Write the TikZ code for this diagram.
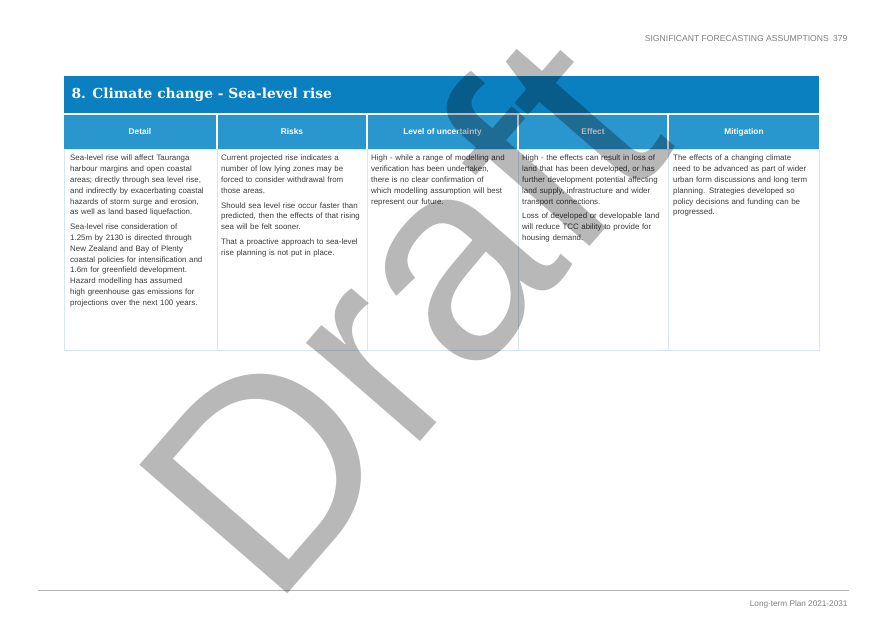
\documentclass[tikz,border=0pt]{standalone}
\usepackage{fontspec}
\setmainfont{Liberation Sans}
\newfontfamily\slab{DejaVu Serif}
\hyphenpenalty=10000
\exhyphenpenalty=10000
\begin{document}
\begin{tikzpicture}[x=1pt,y=-1pt,
  body/.style={anchor=north west,text width=139pt,align=left,text=txt,font=\fontsize{7.9}{10.8}\selectfont,inner sep=0pt}]
\definecolor{tcol}{HTML}{0A80C0}
\definecolor{hcol}{HTML}{2A96CE}
\definecolor{txt}{HTML}{3C3C3C}
\definecolor{lin}{HTML}{D6E6F2}
\useasboundingbox (0,0) rectangle (886,626);
\fill[white] (0,0) rectangle (886,626);
\node[anchor=east,text=gray,font=\fontsize{8.6}{10}\selectfont] (pg) at (851,39) {SIGNIFICANT FORECASTING ASSUMPTIONS\enspace 379};
% title
\fill[tcol] (64,76) rectangle (819,113);
\node[anchor=west,text=white,font=\slab\bfseries\fontsize{13.8}{16}\selectfont] (title) at (68,95) {8. Climate change - Sea-level rise};
% headers
\foreach \a/\b/\t [count=\i] in {64/216/Detail,218/366/Risks,368/517/Level of uncertainty,519/667/Effect,669/819/Mitigation}{
  \fill[hcol] (\a,115) rectangle (\b,149);
  \node[text=white,font=\bfseries\fontsize{8.3}{10}\selectfont] (h\i) at ({(\a+\b)/2},132) {\t};
}
\draw[lin] (64,149) rectangle (819,350);
\foreach \x in {217,367,518,668} \draw[lin] (\x,149) -- (\x,350);
\node[body] (d1) at (70,155) {Sea-level rise will affect Tauranga harbour margins and open coastal areas; directly through sea level rise, and indirectly by exacerbating coastal hazards of storm surge and erosion, as well as land based liquefaction.\par\vspace{4pt}Sea-level rise consideration of 1.25m by 2130 is directed through New Zealand and Bay of Plenty coastal policies for intensification and 1.6m for greenfield development. Hazard modelling has assumed high greenhouse gas emissions for projections over the next 100 years.};
\node[body] (d2) at (221,155) {Current projected rise indicates a number of low lying zones may be forced to consider withdrawal from those areas.\par\vspace{4pt}Should sea level rise occur faster than predicted, then the effects of that rising sea will be felt sooner.\par\vspace{4pt}That a proactive approach to sea-level rise planning is not put in place.};
\node[body,text width=143pt] (d3) at (371,155) {High - while a range of modelling and verification has been undertaken, there is no clear confirmation of which modelling assumption will best represent our future.};
\node[body,text width=146pt] (d4) at (522,155) {High - the effects can result in loss of land that has been developed, or has further development potential affecting land supply, infrastructure and wider transport connections.\par\vspace{4pt}Loss of developed or developable land will reduce TCC ability to provide for housing demand.};
\node[body,text width=144pt] (d5) at (673,155) {The effects of a changing climate need to be advanced as part of wider urban form discussions and long term planning. Strategies developed so policy decisions and funding can be progressed.};
% footer
\draw[gray!60] (38,590) -- (849,590);
\node[anchor=east,text=gray,font=\fontsize{8.2}{10}\selectfont] (ft) at (851,604) {Long-term Plan 2021-2031};
% watermark
\node[rotate=49,text=black,opacity=0.28,font=\fontsize{285}{285}\selectfont,inner sep=0pt] (wm) at (398,312) {Draft};
\end{tikzpicture}
\end{document}
